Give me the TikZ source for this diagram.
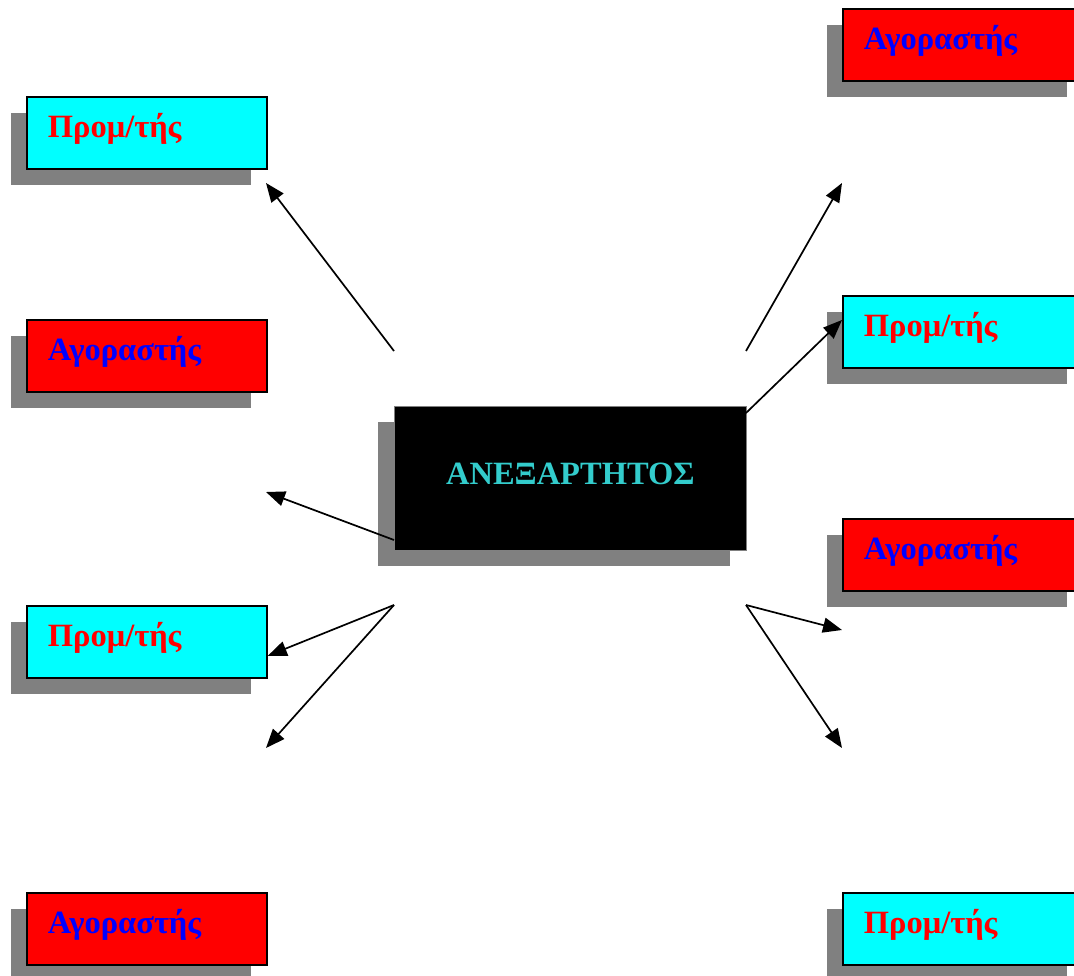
\documentclass[tikz,border=0pt]{standalone}
\usepackage{fontspec}
\setmainfont{Liberation Serif}
\usetikzlibrary{arrows.meta,shadows}
\definecolor{shade}{HTML}{808080}
\definecolor{aqua}{HTML}{00FFFF}
\definecolor{scarlet}{HTML}{FF0000}
\definecolor{royal}{HTML}{0000FF}
\definecolor{teal}{HTML}{33CCCC}
\begin{document}
\begin{tikzpicture}[x=1pt,y=-1pt,
  card/.style={draw=black, line width=1.8pt, minimum width=240pt, minimum height=72pt,
    inner xsep=21pt, text width=198pt, align=left, anchor=north west,
    text height=22pt, text depth=12pt,
    font=\fontsize{32.5}{38}\selectfont\bfseries,
    general shadow={fill=shade, shadow xshift=-16pt, shadow yshift=-16pt}},
  seller/.style={card, fill=aqua, text=scarlet},
  buyer/.style={card, fill=scarlet, text=royal},
  link/.style={line width=1.7pt, -{Triangle[length=19pt,width=15pt]}}]
\useasboundingbox (0,0) rectangle (1074,976);

% left column
\node[seller] (l1) at (26,96) {Προμ/τής};
\node[buyer]  (l2) at (26,319) {Αγοραστής};
\node[seller] (l3) at (26,605) {Προμ/τής};
\node[buyer]  (l4) at (26,892) {Αγοραστής};

% right column
\node[buyer]  (r1) at (842,8) {Αγοραστής};
\node[seller] (r2) at (842,295) {Προμ/τής};
\node[buyer]  (r3) at (842,518) {Αγοραστής};
\node[seller] (r4) at (842,892) {Προμ/τής};

% centre
\node[draw=shade, line width=0.8pt, fill=black, minimum width=352pt, minimum height=144pt,
  anchor=north west, text=teal, font=\fontsize{32.5}{38}\selectfont\bfseries,
  text height=22pt, text depth=10pt,
  general shadow={fill=shade, shadow xshift=-16pt, shadow yshift=-16pt}]
  (c) at (394,406) {ΑΝΕΞΑΡΤΗΤΟΣ};

% loose ends of the connectors
\coordinate (ul) at (394,351);
\coordinate (ur) at (746,351);
\coordinate (dl) at (394,605);
\coordinate (dr) at (746,605);
\coordinate (cl) at (394,540);
\coordinate (cr) at (746,413);
\coordinate (t1) at (266,183);
\coordinate (t2) at (266,492);
\coordinate (t3) at (266,748);
\coordinate (t5) at (842,183);
\coordinate (t7) at (842,630);
\coordinate (t8) at (842,748);

\draw[link] (ul) -- (t1);
\draw[link] (cl) -- (t2);
\draw[link] (dl) -- ([yshift=23pt]l3.south east);
\draw[link] (dl) -- (t3);
\draw[link] (ur) -- (t5);
\draw[link] (cr) -- ([yshift=-25pt]r2.north west);
\draw[link] (dr) -- (t7);
\draw[link] (dr) -- (t8);
\end{tikzpicture}
\end{document}
